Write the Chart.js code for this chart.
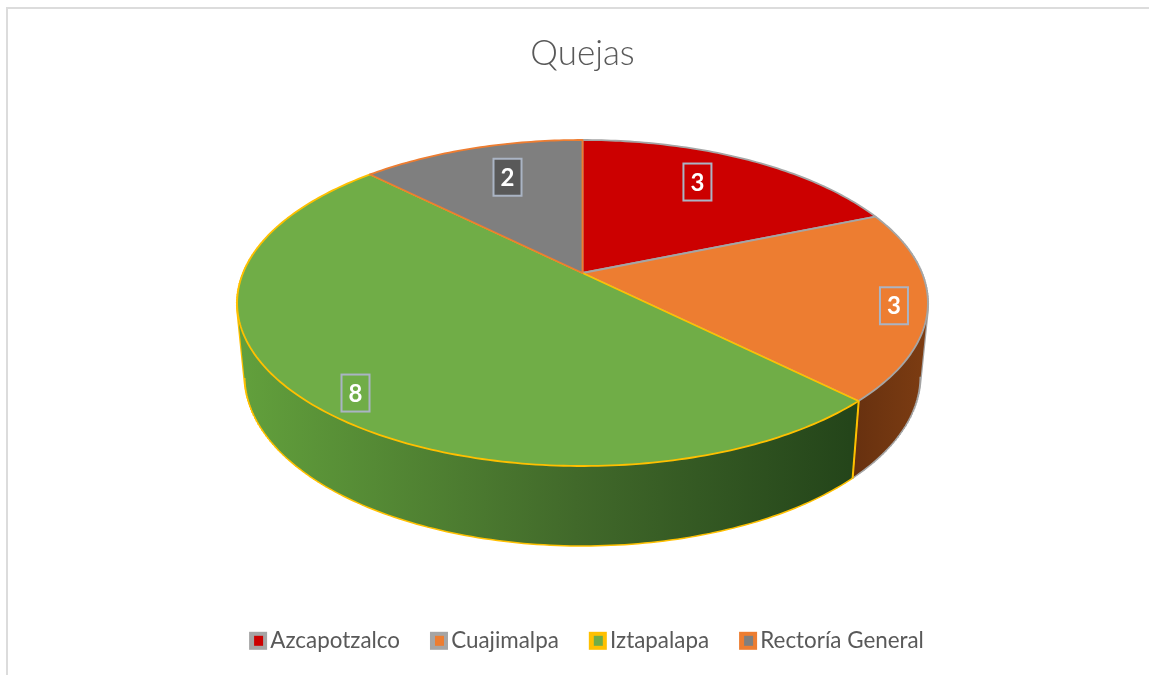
<!DOCTYPE html>
<html>
<head>
<meta charset="utf-8">
<title>Quejas</title>
<script src="https://cdn.jsdelivr.net/npm/chart.js@4"></script>
<style>
  html, body { margin: 0; padding: 0; background: #fff; overflow: hidden; }
  canvas { display: block; }
</style>
</head>
<body>
<canvas id="mychart" width="1149" height="675"></canvas>
<script>
// data
const categories = ['Azcapotzalco', 'Cuajimalpa', 'Iztapalapa', 'Rectoría General'];
const quejas = [3, 3, 8, 2];

// colours per slice
const topColors = ['#cc0000', '#ed7d31', '#70ad47', '#7f7f7f'];
const edgeColors = ['#a5a5a5', '#a5a5a5', '#ffc000', '#ed7d31'];
const wallStops = [
    ['#7a0000', '#7a0000'],
    ['#66300f', '#7c3c12'],
    ['#62a03c', '#24451a'],
    ['#5a5a5a', '#5a5a5a']
];
const labelFills = ['#cc0000', '#ed7d31', '#70ad47', '#595959'];
const labelRadius = [0.672, 0.905, 0.842, 0.64];  // how far out each label sits

// perspective of the tilted disc: top plane and bottom plane
const tilt = 0.184;
const cx = 582.5;
const topPlane = { b: 339.5, a: 157.5, y0: 273 };
const lowPlane = { b: 332, a: 164, y0: 345 };

function project(plane, u, v) {
    const w = 1 - tilt * v;
    return { x: cx + plane.b * u / w, y: plane.y0 + plane.a * v / w };
}

// points along a slice edge, from the angles the library worked out
function rim(plane, arc) {
    const pts = [];
    const steps = Math.ceil((arc.endAngle - arc.startAngle) * 60);
    for (let s = 0; s <= steps; s++) {
        const t = arc.startAngle + (arc.endAngle - arc.startAngle) * s / steps;
        pts.push(project(plane, Math.cos(t), Math.sin(t)));
    }
    return pts;
}

function trace(ctx, pts) {
    pts.forEach((p, i) => i ? ctx.lineTo(p.x, p.y) : ctx.moveTo(p.x, p.y));
}

// every quad wound the same way, so overlapping ones do not cancel out
function addQuad(ctx, quad) {
    let area = 0;
    quad.forEach((p, i) => {
        const q = quad[(i + 1) % 4];
        area += p.x * q.y - q.x * p.y;
    });
    trace(ctx, area < 0 ? quad.slice().reverse() : quad);
    ctx.closePath();
}

const frame = {
    id: 'frame',
    beforeDraw(chart) {
        const ctx = chart.ctx;
        ctx.save();
        ctx.fillStyle = '#fff';
        ctx.fillRect(0, 0, chart.width, chart.height);
        ctx.fillStyle = '#dcdcdc';
        ctx.fillRect(6, 7, chart.width - 6, 2);
        ctx.fillRect(6, 7, 2, chart.height - 7);
        ctx.restore();
    }
};

// replaces the flat arcs with the 3D disc
const disc = {
    id: 'disc',
    afterLayout(chart) {
        chart.legend.left += 5;
        chart.legend.right += 5;
        chart.legend.top -= 13;
        chart.legend.bottom -= 13;
    },
    beforeDatasetDraw(chart) {
        const ctx = chart.ctx;
        const arcs = chart.getDatasetMeta(0).data;
        // below this line the bottom rim is the outline of the disc
        const rimLimit = project(lowPlane, 0, tilt).y;
        ctx.save();
        ctx.lineJoin = 'round';

        // side walls
        arcs.forEach((arc, i) => {
            const up = rim(topPlane, arc);
            const low = rim(lowPlane, arc);
            // connectors first, the fill leaves only their outer half at the silhouette
            ctx.strokeStyle = edgeColors[i];
            ctx.lineWidth = 2.5;
            ctx.beginPath();
            up.forEach((p, k) => { ctx.moveTo(p.x, p.y); ctx.lineTo(low[k].x, low[k].y); });
            ctx.stroke();

            const span = i === 1 ? [850, 925] : [240, 850];
            const g = ctx.createLinearGradient(span[0], 0, span[1], 0);
            g.addColorStop(0, wallStops[i][0]);
            if (i === 2) g.addColorStop(0.55, '#41692a');
            g.addColorStop(1, wallStops[i][1]);
            ctx.fillStyle = g;
            ctx.beginPath();
            for (let k = 0; k < up.length - 1; k++) {
                addQuad(ctx, [up[k], up[k + 1], low[k + 1], low[k]]);
            }
            ctx.fill();

            ctx.strokeStyle = edgeColors[i];
            ctx.lineWidth = 1.5;
            ctx.beginPath();
            trace(ctx, low.filter(p => p.y >= rimLimit));
            ctx.stroke();
        });

        // vertical edge between the orange and green walls
        const seam = arcs[2];
        const a = project(topPlane, Math.cos(seam.startAngle), Math.sin(seam.startAngle));
        const b = project(lowPlane, Math.cos(seam.startAngle), Math.sin(seam.startAngle));
        ctx.strokeStyle = edgeColors[2];
        ctx.lineWidth = 1.5;
        ctx.beginPath();
        ctx.moveTo(a.x, a.y);
        ctx.lineTo(b.x, b.y);
        ctx.stroke();

        // top face
        const apex = project(topPlane, 0, 0);
        arcs.forEach((arc, i) => {
            ctx.beginPath();
            ctx.moveTo(apex.x, apex.y);
            rim(topPlane, arc).forEach(p => ctx.lineTo(p.x, p.y));
            ctx.closePath();
            ctx.fillStyle = topColors[i];
            ctx.fill();
            ctx.strokeStyle = edgeColors[i];
            ctx.lineWidth = 1.8;
            ctx.stroke();
        });
        ctx.restore();
        return false;
    },
    afterDatasetsDraw(chart) {
        const ctx = chart.ctx;
        const arcs = chart.getDatasetMeta(0).data;
        ctx.save();
        ctx.font = 'bold 24px Lato';
        ctx.textAlign = 'center';
        ctx.textBaseline = 'middle';
        arcs.forEach((arc, i) => {
            const mid = (arc.startAngle + arc.endAngle) / 2;
            const f = labelRadius[i];
            const p = project(topPlane, f * Math.cos(mid), f * Math.sin(mid));
            const y = topPlane.y0 + (p.y - topPlane.y0) * 1.14;
            ctx.fillStyle = labelFills[i];
            ctx.fillRect(p.x - 14, y - 18.5, 28, 37);
            ctx.strokeStyle = '#aab4c4';
            ctx.lineWidth = 2;
            ctx.strokeRect(p.x - 14, y - 18.5, 28, 37);
            ctx.fillStyle = '#fff';
            ctx.fillText(String(quejas[i]), p.x, y + 1);
        });
        ctx.restore();
    },
    afterDraw(chart) {
        // legend markers: thick outer square with a small inner one
        const ctx = chart.ctx;
        ctx.save();
        chart.legend.legendHitBoxes.forEach((hit, i) => {
            const x = hit.left - 2;
            const y = hit.top + hit.height / 2 - 9;
            ctx.fillStyle = edgeColors[i];
            ctx.fillRect(x, y, 18, 18);
            ctx.fillStyle = topColors[i];
            ctx.fillRect(x + 5, y + 4, 9, 10);
        });
        ctx.restore();
    }
};

const ctx = document.getElementById('mychart').getContext('2d');
const myChart = new Chart(ctx, {
    type: 'pie',
    data: {
        labels: categories,
        datasets: [{
            label: 'Quejas',
            data: quejas,
            backgroundColor: topColors,
            borderColor: edgeColors
        }]
    },
    options: {
        responsive: false,
        animation: false,
        layout: { padding: { left: 16, bottom: 0 } },
        plugins: {
            tooltip: { enabled: false },
            title: {
                display: true,
                text: 'Quejas',
                color: '#595959',
                font: { family: 'Lato', size: 35, weight: '300' },
                padding: { top: 33, bottom: 10 }
            },
            legend: {
                position: 'bottom',
                labels: {
                    boxWidth: 8,
                    boxHeight: 8,
                    padding: 32,
                    color: '#595959',
                    font: { family: 'Lato', size: 22.4 },
                    generateLabels(chart) {
                        return categories.map((name, i) => ({
                            text: name,
                            fontColor: '#595959',
                            fillStyle: 'transparent',
                            strokeStyle: 'transparent',
                            lineWidth: 0,
                            index: i
                        }));
                    }
                }
            }
        }
    },
    plugins: [frame, disc]
});
</script>
</body>
</html>
